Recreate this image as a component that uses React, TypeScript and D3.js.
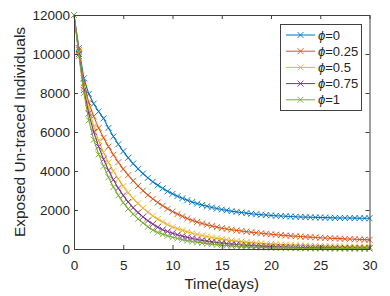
import React, { useEffect, useRef } from 'react';
import * as d3 from 'd3';

// time in days, one sample every half day
const days: number[] = d3.range(0, 30.01, 0.5);

const phiLabels = ['0', '0.25', '0.5', '0.75', '1'];
const colors = ['#0072BD', '#D95319', '#EDB120', '#7E2F8E', '#77AC30'];

const phi0 = [
  12000, 10300, 8750, 7950, 7450, 7050, 6700, 6210, 5770, 5370, 5010, 4680, 4380, 4110, 3870, 3650,
  3450, 3270, 3110, 2960, 2830, 2710, 2600, 2500, 2410, 2330, 2255, 2190, 2130, 2075, 2025, 1980,
  1940, 1905, 1870, 1840, 1810, 1785, 1760, 1740, 1720, 1705, 1690, 1677, 1665, 1654, 1644, 1635,
  1627, 1620, 1613, 1607, 1602, 1597, 1593, 1589, 1586, 1583, 1580, 1578, 1576,
];
const phi025 = [
  12000, 10200, 8500, 7500, 6800, 6200, 5700, 5250, 4830, 4450, 4100, 3790, 3500, 3230, 2990, 2770,
  2570, 2385, 2215, 2060, 1920, 1790, 1675, 1565, 1467, 1386, 1312, 1243, 1180, 1121, 1067, 1026,
  990, 955, 922, 890, 860, 832, 805, 780, 755, 733, 712, 692, 673, 655, 638, 622, 607, 593, 580,
  567, 555, 543, 532, 521, 510, 500, 490, 480, 470,
];
const phi05 = [
  12000, 10100, 8300, 7200, 6300, 5550, 4950, 4440, 3990, 3580, 3220, 2890, 2600, 2340, 2100, 1890,
  1700, 1535, 1385, 1250, 1125, 1035, 955, 880, 810, 748, 690, 638, 590, 546, 506, 469, 436, 405,
  377, 352, 328, 307, 287, 270, 253, 238, 225, 212, 201, 190, 181, 172, 164, 157, 150, 144, 139, 134,
  129, 125, 121, 117, 114, 111, 109,
];
const phi075 = [
  12000, 10000, 8150, 6950, 6000, 5250, 4600, 4040, 3550, 3120, 2750, 2410, 2120, 1870, 1645, 1450,
  1275, 1120, 990, 893, 807, 729, 659, 596, 540, 489, 443, 402, 364, 331, 301, 274, 249, 227, 208,
  190, 174, 160, 147, 135, 124, 115, 106, 99, 92, 86, 80, 75, 71, 67, 63, 60, 57, 54, 52, 49, 47, 46,
  44, 43, 41,
];
const phi1 = [
  12000, 9900, 8000, 6600, 5600, 4850, 4250, 3680, 3180, 2750, 2380, 2060, 1785, 1545, 1340, 1140,
  970, 848, 756, 675, 603, 538, 480, 429, 383, 343, 306, 274, 245, 220, 197, 176, 158, 142, 128, 115,
  103, 93, 84, 76, 69, 63, 57, 52, 47, 43, 39, 36, 33, 31, 29, 27, 25, 23, 22, 20, 19, 18, 17, 16, 16,
];
const seriesValues = [phi0, phi025, phi05, phi075, phi1];

const xTicks = [0, 5, 10, 15, 20, 25, 30];
const yTicks = [0, 2000, 4000, 6000, 8000, 10000, 12000];

const App: React.FC = () => {
  const ref = useRef<SVGSVGElement>(null);

  useEffect(() => {
    const W = 390;
    const H = 296;
    const left = 74;
    const right = 369.5;
    const top = 15;
    const bottom = 249;
    const font = "'Liberation Sans', Arial, sans-serif";
    const textColor = '#262626';
    const axisColor = '#404040';

    const svg = d3.select(ref.current).attr('width', W).attr('height', H);
    svg.selectAll('*').remove();

    svg.append('rect').attr('width', W).attr('height', H).attr('fill', '#ffffff');

    const x = d3.scaleLinear().domain([0, 30]).range([left, right]);
    const y = d3.scaleLinear().domain([0, 12000]).range([bottom, top]);

    // lines + x markers
    const line = d3
      .line<number>()
      .x((_, i) => x(days[i]))
      .y((d) => y(d));

    const ms = 3;
    const crossPath = (cx: number, cy: number) =>
      `M${cx - ms},${cy - ms}L${cx + ms},${cy + ms}M${cx - ms},${cy + ms}L${cx + ms},${cy - ms}`;

    seriesValues.forEach((vals, s) => {
      const g = svg.append('g');
      g.append('path')
        .attr('d', line(vals))
        .attr('fill', 'none')
        .attr('stroke', colors[s])
        .attr('stroke-width', 1.1);
      g.append('path')
        .attr('d', vals.map((v, i) => crossPath(x(days[i]), y(v))).join(''))
        .attr('fill', 'none')
        .attr('stroke', colors[s])
        .attr('stroke-width', 0.9);
    });

    // axes, ticks inward (matlab style)
    const styleAxis = (g: d3.Selection<SVGGElement, unknown, null, undefined>) => {
      g.selectAll('path').attr('stroke', axisColor);
      g.selectAll('line').attr('stroke', axisColor);
      g.selectAll('text')
        .attr('fill', textColor)
        .style('font-family', font)
        .style('font-size', '13.5px');
    };

    svg
      .append('g')
      .attr('transform', `translate(0,${bottom})`)
      .call(d3.axisBottom(x).tickValues(xTicks).tickSizeInner(-4).tickSizeOuter(0).tickPadding(11))
      .call(styleAxis);
    svg
      .append('g')
      .attr('transform', `translate(0,${top})`)
      .call(d3.axisTop(x).tickValues(xTicks).tickFormat(() => '').tickSizeInner(-4).tickSizeOuter(0))
      .call(styleAxis);
    svg
      .append('g')
      .attr('transform', `translate(${left},0)`)
      .call(d3.axisLeft(y).tickValues(yTicks).tickFormat(d3.format('d')).tickSizeInner(-4).tickSizeOuter(0).tickPadding(4))
      .call(styleAxis);
    svg
      .append('g')
      .attr('transform', `translate(${right},0)`)
      .call(d3.axisRight(y).tickValues(yTicks).tickFormat(() => '').tickSizeInner(-4).tickSizeOuter(0))
      .call(styleAxis);

    svg.selectAll('.domain').attr('stroke-width', 1);

    // axis labels
    svg
      .append('text')
      .attr('x', (left + right) / 2)
      .attr('y', 289)
      .attr('text-anchor', 'middle')
      .attr('fill', textColor)
      .style('font-family', font)
      .style('font-size', '15px')
      .text('Time(days)');

    svg
      .append('text')
      .attr('transform', `translate(25,${(top + bottom) / 2}) rotate(-90)`)
      .attr('text-anchor', 'middle')
      .attr('fill', textColor)
      .style('font-family', font)
      .style('font-size', '15.5px')
      .text('Exposed Un-traced Individuals');

    // legend
    const leg = svg.append('g');
    leg
      .append('rect')
      .attr('x', 280.5)
      .attr('y', 24.5)
      .attr('width', 81)
      .attr('height', 86)
      .attr('fill', '#ffffff')
      .attr('stroke', axisColor)
      .attr('stroke-width', 1);

    phiLabels.forEach((lab, i) => {
      const ly = 35 + i * 16.2;
      leg
        .append('line')
        .attr('x1', 286)
        .attr('x2', 315)
        .attr('y1', ly)
        .attr('y2', ly)
        .attr('stroke', colors[i])
        .attr('stroke-width', 1);
      leg
        .append('path')
        .attr('d', crossPath(300.5, ly))
        .attr('stroke', colors[i])
        .attr('stroke-width', 0.9);
      const t = leg
        .append('text')
        .attr('x', 318)
        .attr('y', ly + 4.5)
        .attr('fill', textColor)
        .style('font-family', font)
        .style('font-size', '13px');
      t.append('tspan').style('font-style', 'italic').text('ϕ');
      t.append('tspan').text(`=${lab}`);
    });
  }, []);

  return (
    <svg ref={ref} style={{ position: 'absolute', left: 0, top: 0 }} width={390} height={296}></svg>
  );
};

export default App;
